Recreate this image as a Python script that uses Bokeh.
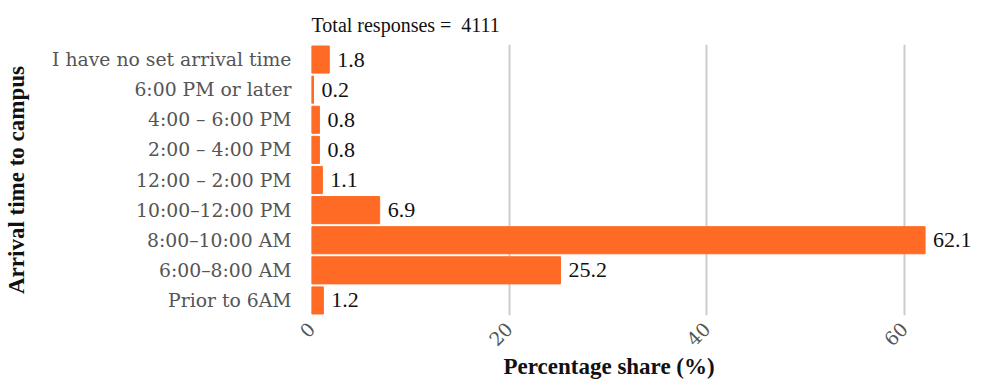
import math
from bokeh.plotting import figure
from bokeh.models import ColumnDataSource, LabelSet, Label, FactorRange, Range1d, FixedTicker
from bokeh.embed import file_html
from bokeh.resources import INLINE

categories = ["Prior to 6AM", "6:00\u20138:00 AM", "8:00\u201310:00 AM", "10:00\u201312:00 PM",
              "12:00 \u2013 2:00 PM", "2:00 \u2013 4:00 PM", "4:00 \u2013 6:00 PM",
              "6:00 PM or later", "I have no set arrival time"]
shares = [1.2, 25.2, 62.1, 6.9, 1.1, 0.8, 0.8, 0.2, 1.8]
x_ticks = [0, 20, 40, 60]
total_responses = 4111
x_title = "Percentage share (%)"
y_title = "Arrival time to campus"

TICK_FONT = "DejaVu Serif"
TEXT_FONT = "Liberation Serif"
BAR = "#FF6A25"

src = ColumnDataSource(dict(cat=categories, share=shares,
                            label=[f"{v:.1f}" for v in shares]))

p = figure(width=974, height=380, output_backend="svg", toolbar_location=None,
           y_range=FactorRange(factors=categories, range_padding=0),
           x_range=Range1d(0, 66.9),
           min_border_left=311, min_border_right=2, min_border_top=44, min_border_bottom=55)

p.hbar(y="cat", left=0, right="share", height=0.9, source=src, color=BAR)
p.add_layout(LabelSet(x="share", y="cat", text="label", source=src, x_offset=8,
                      text_baseline="middle", text_align="left",
                      text_font=TEXT_FONT, text_font_size="22px", text_color="#111111"))

p.title.text = f"Total responses = \u00a0{total_responses}"
p.title.text_font = TEXT_FONT
p.title.text_font_size = "20px"
p.title.text_font_style = "normal"
p.title.text_color = "#111111"
p.title.align = "left"
p.title.standoff = 17

p.outline_line_color = None
p.ygrid.visible = False
p.xgrid.ticker = FixedTicker(ticks=x_ticks)
p.xgrid.grid_line_color = "#cccccc"
p.xgrid.grid_line_width = 2

p.xaxis.ticker = FixedTicker(ticks=x_ticks)
p.xaxis.major_label_orientation = math.pi / 4
for ax in (p.xaxis, p.yaxis):
    ax.axis_line_color = None
    ax.major_tick_line_color = None
    ax.minor_tick_line_color = None
    ax.major_label_text_font = TICK_FONT
    ax.major_label_text_font_size = "18.8px"
    ax.major_label_text_color = "#555555"
p.xaxis.major_label_standoff = 4
p.yaxis.major_label_standoff = 14
p.yaxis.axis_label = y_title
p.yaxis.axis_label_text_font = TEXT_FONT
p.yaxis.axis_label_text_font_size = "23px"
p.yaxis.axis_label_text_font_style = "bold"
p.yaxis.axis_label_text_color = "#111111"
p.yaxis.axis_label_standoff = 20

p.add_layout(Label(x=192, y=2, x_units="screen", y_units="screen", text=x_title,
                   text_align="left", text_baseline="bottom",
                   text_font=TEXT_FONT, text_font_size="23px", text_font_style="bold",
                   text_color="#111111"), "below")

open("out.html", "w").write(file_html(p, INLINE))
